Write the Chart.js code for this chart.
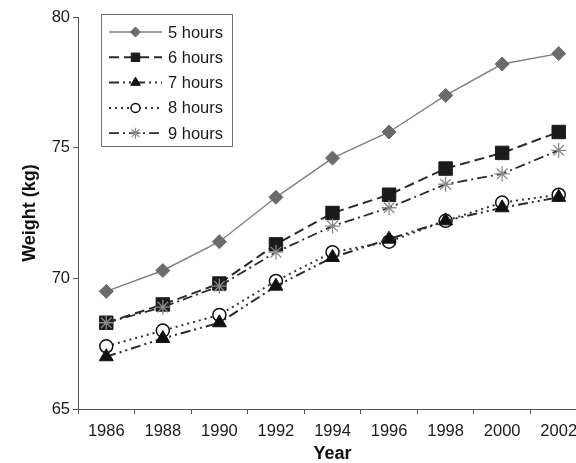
<!DOCTYPE html>
<html>
<head>
<meta charset="utf-8">
<script src="https://cdn.jsdelivr.net/npm/chart.js@4/dist/chart.umd.min.js"></script>
<style>
  html, body { margin: 0; padding: 0; width: 576px; height: 463px; overflow: hidden; background: #fff; }
  #wrap { position: relative; width: 600px; height: 463px; }
</style>
</head>
<body>
<div id="wrap"><canvas id="c" width="600" height="463"></canvas></div>
<script>
const years = ['1986','1988','1990','1992','1994','1996','1998','2000','2002'];
const seriesNames = ['5 hours','6 hours','7 hours','8 hours','9 hours'];
const hours5 = [69.5, 70.3, 71.4, 73.1, 74.6, 75.6, 77.0, 78.2, 78.6];
const hours6 = [68.3, 69.0, 69.8, 71.3, 72.5, 73.2, 74.2, 74.8, 75.6];
const hours7 = [67.0, 67.7, 68.3, 69.7, 70.8, 71.5, 72.2, 72.7, 73.1];
const hours8 = [67.4, 68.0, 68.6, 69.9, 71.0, 71.4, 72.2, 72.9, 73.2];
const hours9 = [68.3, 68.9, 69.7, 71.0, 72.0, 72.7, 73.6, 74.0, 74.9];
const yTicks = [65, 70, 75, 80];

const FONT = "'Liberation Sans', Arial, Helvetica, sans-serif";

const datasets = [
  { label: seriesNames[0], data: hours5, order: 4,
    borderColor: '#808080', borderWidth: 1.4, borderDash: [],
    pointStyle: 'rectRot', pointRadius: 7, pointBackgroundColor: '#6b6b6b', pointBorderColor: '#6b6b6b', pointBorderWidth: 1,
    legendRadius: 5 },
  { label: seriesNames[1], data: hours6, order: 3,
    borderColor: '#2b2b2b', borderWidth: 2, borderDash: [10, 5],
    pointStyle: 'rect', pointRadius: 9.5, pointBackgroundColor: '#1b1b1b', pointBorderColor: '#1b1b1b', pointBorderWidth: 1,
    legendRadius: 6 },
  { label: seriesNames[2], data: hours7, order: 0,
    borderColor: '#2b2b2b', borderWidth: 2, borderDash: [10, 4, 2, 4, 2, 4],
    pointStyle: 'triangle', pointRadius: 8, pointBackgroundColor: '#111', pointBorderColor: '#111', pointBorderWidth: 1,
    legendRadius: 5.5 },
  { label: seriesNames[3], data: hours8, order: 1,
    borderColor: '#333', borderWidth: 2, borderDash: [2, 4],
    pointStyle: 'circle', pointRadius: 6.5, pointBackgroundColor: '#fff', pointBorderColor: '#111', pointBorderWidth: 1.5,
    legendRadius: 4.5 },
  { label: seriesNames[4], data: hours9, order: 2,
    borderColor: '#2b2b2b', borderWidth: 1.8, borderDash: [10, 4, 2, 4],
    pointStyle: 'star', pointRadius: 7.5, pointBackgroundColor: '#8c8c8c', pointBorderColor: '#8c8c8c', pointBorderWidth: 1.3,
    legendRadius: 5.5 }
].map(d => Object.assign({ fill: false, tension: 0 }, d));

const boxLegend = {
  id: 'boxLegend',
  afterDraw(chart) {
    const ctx = chart.ctx;
    const left = 101, top = 14, right = 232, bottom = 146;
    ctx.save();
    ctx.fillStyle = '#fff';
    ctx.fillRect(left, top, right - left, bottom - top);
    ctx.strokeStyle = '#707070';
    ctx.lineWidth = 1;
    ctx.setLineDash([]);
    ctx.strokeRect(left + 0.5, top + 0.5, right - left, bottom - top);
    chart.data.datasets.forEach((ds, i) => {
      const y = 32 + i * 25.3;
      ctx.save();
      ctx.strokeStyle = ds.borderColor;
      ctx.lineWidth = ds.borderWidth;
      ctx.setLineDash(ds.borderDash);
      ctx.beginPath();
      ctx.moveTo(109, y);
      ctx.lineTo(162, y);
      ctx.stroke();
      ctx.restore();
      ctx.save();
      ctx.setLineDash([]);
      ctx.fillStyle = ds.pointBackgroundColor;
      ctx.strokeStyle = ds.pointBorderColor;
      ctx.lineWidth = ds.pointBorderWidth;
      Chart.helpers.drawPoint(ctx, { pointStyle: ds.pointStyle, radius: ds.legendRadius, rotation: 0, borderWidth: ds.pointBorderWidth }, 135.5, y);
      ctx.restore();
      ctx.fillStyle = '#1a1a1a';
      ctx.font = '16.5px ' + FONT;
      ctx.textBaseline = 'middle';
      ctx.textAlign = 'left';
      ctx.fillText(ds.label, 168, y + 1);
    });
    ctx.restore();
  }
};

new Chart(document.getElementById('c'), {
  type: 'line',
  data: { labels: years, datasets: datasets },
  options: {
    responsive: false,
    animation: false,
    events: [],
    layout: { padding: { top: 17, right: 13, left: 0, bottom: 0 } },
    plugins: { legend: { display: false }, tooltip: { enabled: false } },
    scales: {
      x: {
        type: 'category',
        offset: true,
        grid: { display: true, offset: true, drawOnChartArea: false, drawTicks: true, tickLength: 5, color: '#555', lineWidth: 1 },
        border: { display: true, color: '#555', width: 1 },
        ticks: { color: '#1a1a1a', font: { family: FONT, size: 16.5 }, padding: 8, maxRotation: 0, autoSkip: false },
        title: { display: true, text: 'Year', color: '#111', font: { family: FONT, size: 18, weight: 'bold', lineHeight: 1 }, padding: { top: 0, bottom: 0 } },
        afterFit(scale) { scale.height = 54; }
      },
      y: {
        min: 65, max: 80,
        afterBuildTicks(scale) { scale.ticks = yTicks.map(v => ({ value: v })); },
        grid: { display: true, drawOnChartArea: false, drawTicks: true, tickLength: 5, color: '#555', lineWidth: 1 },
        border: { display: true, color: '#555', width: 1 },
        ticks: { color: '#1a1a1a', font: { family: FONT, size: 16.5 }, padding: 3 },
        title: { display: true, text: 'Weight (kg)', color: '#111', font: { family: FONT, size: 18, weight: 'bold', lineHeight: 1.2 }, padding: { top: 19, bottom: 0 } },
        afterFit(scale) { scale.width = 78; }
      }
    }
  },
  plugins: [boxLegend]
});
</script>
</body>
</html>
